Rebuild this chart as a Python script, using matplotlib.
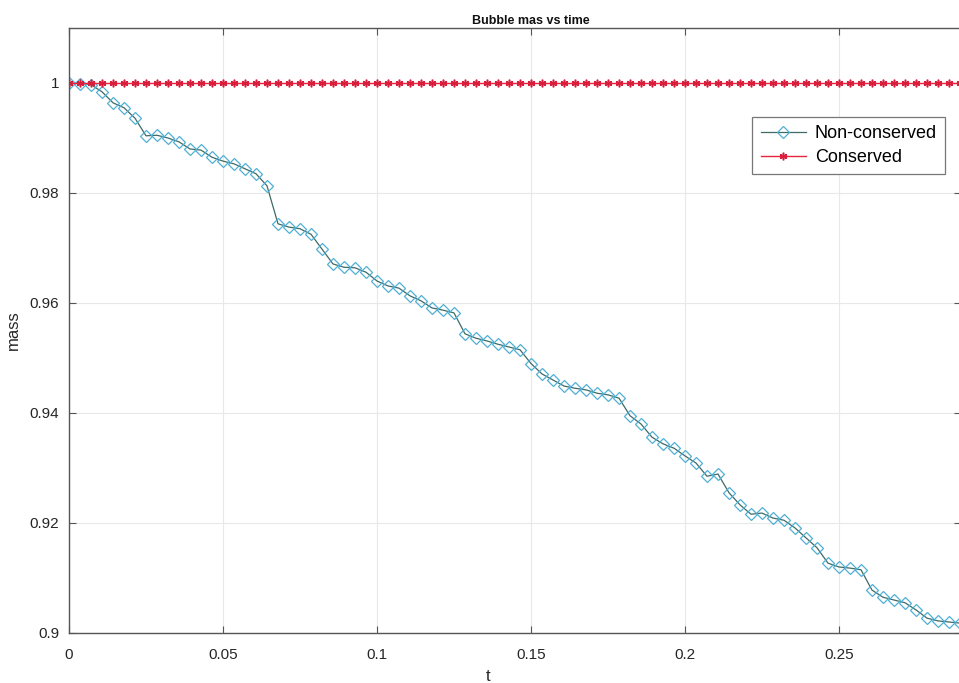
import matplotlib.pyplot as plt
import numpy as np

plt.rcParams['font.family'] = ['Liberation Sans', 'DejaVu Sans']

# time step of the simulation output
dt = 1.0 / 280.0

# bubble mass without the conservation correction
mass_nonconserved = [
    1.0000, 0.9999, 0.9997, 0.9984, 0.9964, 0.9955, 0.9936, 0.9904, 0.9905, 0.9900,
    0.9893, 0.9880, 0.9878, 0.9865, 0.9858, 0.9853, 0.9844, 0.9835, 0.9813, 0.9744,
    0.9738, 0.9735, 0.9725, 0.9698, 0.9671, 0.9665, 0.9664, 0.9656, 0.9640, 0.9631,
    0.9627, 0.9613, 0.9604, 0.9591, 0.9587, 0.9582, 0.9544, 0.9536, 0.9531, 0.9525,
    0.9520, 0.9515, 0.9490, 0.9471, 0.9460, 0.9449, 0.9445, 0.9442, 0.9436, 0.9433,
    0.9427, 0.9395, 0.9380, 0.9356, 0.9344, 0.9336, 0.9322, 0.9309, 0.9285, 0.9289,
    0.9255, 0.9233, 0.9216, 0.9218, 0.9209, 0.9205, 0.9191, 0.9173, 0.9155, 0.9127,
    0.9120, 0.9118, 0.9115, 0.9078, 0.9065, 0.9060, 0.9055, 0.9042, 0.9027, 0.9022,
    0.9020, 0.9018,
]
# with the correction the mass stays at its initial value
mass_conserved = [1.0] * len(mass_nonconserved)

t = np.arange(len(mass_nonconserved)) * dt

xticks = [0, 0.05, 0.1, 0.15, 0.2, 0.25]
xticklabels = ['0', '0.05', '0.1', '0.15', '0.2', '0.25']
yticks = [0.9, 0.92, 0.94, 0.96, 0.98, 1.0]
yticklabels = ['0.9', '0.92', '0.94', '0.96', '0.98', '1']

fig = plt.figure(figsize=(9.59, 6.83), dpi=100)
ax = fig.add_axes([69 / 959, 50 / 683, 892 / 959, 605 / 683])

ax.plot(t, mass_nonconserved, color='#3f6a66', linewidth=0.9,
        marker='D', markersize=6, markerfacecolor='none',
        markeredgecolor='#4fb0d4', markeredgewidth=0.9, label='Non-conserved')
ax.plot(t, mass_conserved, color='#e8243c', linewidth=1.0,
        marker=(6, 2, 0), markersize=5.5, markeredgecolor='#d81e3c',
        markeredgewidth=1.1, label='Conserved')

ax.set_xlim(0, 892 / 3080)
ax.set_ylim(0.9, 1.01)
ax.set_xticks(xticks)
ax.set_xticklabels(xticklabels)
ax.set_yticks(yticks)
ax.set_yticklabels(yticklabels)

ax.grid(True, color='#e8e8e8', linewidth=0.8)
ax.set_axisbelow(True)
for side in ax.spines.values():
    side.set_color('#555555')
    side.set_linewidth(1.0)
ax.tick_params(direction='in', length=5, width=0.8, color='#555555',
               labelsize=11, labelcolor='#262626', top=True, right=True)
ax.tick_params(axis='x', pad=11)
ax.tick_params(axis='y', pad=7)

ax.set_xlabel('t', fontsize=12, color='#262626')
ax.xaxis.set_label_coords(0.47, -0.06)
ax.set_ylabel('mass', fontsize=12, color='#262626')
ax.yaxis.set_label_coords(-0.054, 0.5)
ax.set_title('Bubble mas vs time', fontsize=9, fontweight='bold',
             color='#111111', x=0.518, pad=3)

leg = ax.legend(loc='upper right', bbox_to_anchor=(0.982, 0.853),
                borderaxespad=0, fontsize=13, fancybox=False, framealpha=1,
                edgecolor='#777777', handlelength=2.5, handletextpad=0.5,
                borderpad=0.45, labelspacing=0.4)
leg.get_frame().set_linewidth(0.9)

fig.savefig('out.png', dpi=100)
